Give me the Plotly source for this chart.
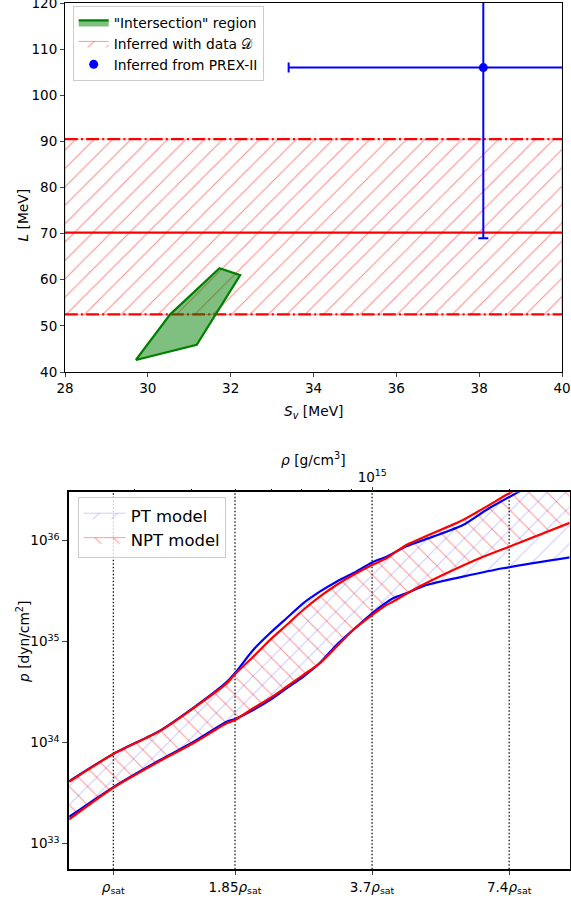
import math
import plotly.graph_objects as go

W, H = 571, 898

# ---------------- top panel data ----------------
SV_TICKS = [28, 30, 32, 34, 36, 38, 40]
L_TICKS = [40, 50, 60, 70, 80, 90, 100, 110, 120]
SV_RANGE = [28, 40]
L_RANGE = [40, 120.01]
INTER_SV = [29.71, 30.54, 31.73, 32.23, 31.18, 29.71]
INTER_L = [42.6, 52.5, 62.5, 61.0, 45.9, 42.6]
D_L_LOW = 52.5
D_L_MID = 70.2
D_L_HIGH = 90.5
PREX_SV = [38.1]
PREX_SV_ERR = [4.7]
PREX_L = [106]
PREX_L_ERR = [37]

# ---------------- bottom panel data ----------------
RHO_SAT = 2.7e14  # g/cm^3
RHO_MULT_TICKS = [1, 1.85, 3.7, 7.4]
RHO_MULT_LABELS = ["<i>ρ</i><sub>sat</sub>", "1.85<i>ρ</i><sub>sat</sub>",
                   "3.7<i>ρ</i><sub>sat</sub>", "7.4<i>ρ</i><sub>sat</sub>"]
RHO_MULT_RANGE = [0.80, 10.04]
P_TICKS = [1e33, 1e34, 1e35, 1e36]
P_TICK_LABELS = ["10<sup>33</sup>", "10<sup>34</sup>", "10<sup>35</sup>", "10<sup>36</sup>"]
LOGP_RANGE = [32.747, 36.479]
TOP_RHO_TICKS = [1e15]
TOP_RHO_LABELS = ["10<sup>15</sup>"]
TOP_RHO_MINOR = [3e14, 4e14, 5e14, 6e14, 7e14, 8e14, 9e14, 2e15]

# PT model (blue) band, x in units of rho_sat, y = log10(p [dyn/cm^2])
PT_UP_X = [0.80, 1.0, 1.266, 1.498, 1.773, 1.85, 2.028, 2.207, 2.401, 2.611, 2.840,
           3.091, 3.361, 3.7, 3.978, 4.401, 5.034, 5.858, 6.592, 7.732, 10.1]
PT_UP_LOGP = [33.62, 33.89, 34.12, 34.345, 34.60, 34.69, 34.918, 35.083, 35.232, 35.380,
              35.495, 35.594, 35.677, 35.785, 35.842, 35.945, 36.040, 36.155, 36.304,
              36.479, 36.76]
PT_LO_X = [0.80, 1.0, 1.266, 1.498, 1.773, 1.85, 2.028, 2.207, 2.401, 2.611, 2.840,
           3.091, 3.361, 3.7, 4.113, 4.401, 4.869, 5.858, 7.168, 10.1]
PT_LO_LOGP = [33.267, 33.561, 33.829, 34.007, 34.208, 34.235, 34.324, 34.422, 34.539,
              34.653, 34.789, 34.967, 35.116, 35.281, 35.430, 35.479, 35.561, 35.644,
              35.727, 35.835]

# NPT model (red) band
NPT_UP_X = [0.80, 1.0, 1.266, 1.498, 1.773, 1.85, 2.028, 2.207, 2.401, 2.611, 2.840,
            3.091, 3.361, 3.7, 3.978, 4.401, 5.858, 7.4, 10.1]
NPT_UP_LOGP = [33.614, 33.888, 34.116, 34.341, 34.588, 34.68, 34.851, 35.017, 35.165,
               35.314, 35.446, 35.561, 35.660, 35.760, 35.826, 35.957, 36.205, 36.469,
               36.81]
NPT_LO_X = [0.80, 1.0, 1.266, 1.498, 1.773, 1.85, 2.028, 2.207, 2.401, 2.611, 2.840,
            3.091, 3.361, 3.7, 3.978, 4.113, 4.550, 5.386, 6.372, 7.4, 10.1]
NPT_LO_LOGP = [33.242, 33.554, 33.819, 33.994, 34.192, 34.225, 34.341, 34.440, 34.554,
               34.670, 34.786, 34.950, 35.116, 35.264, 35.363, 35.396, 35.512, 35.677,
               35.826, 35.941, 36.18]

FONT = "DejaVu Sans"


def px(v):
    return v / W


def py(v):
    return 1 - v / H


def rho(mults):
    return [m * RHO_SAT for m in mults]


def pr(logs):
    return [10 ** v for v in logs]


fig = go.Figure()

# ---------- top panel ----------
fig.add_trace(go.Scatter(
    x=[SV_RANGE[0], SV_RANGE[1], SV_RANGE[1], SV_RANGE[0], SV_RANGE[0]],
    y=[D_L_LOW, D_L_LOW, D_L_HIGH, D_L_HIGH, D_L_LOW],
    fill="toself", mode="lines", line=dict(color="rgba(255,0,0,0.4)", width=1),
    fillcolor="rgba(0,0,0,0)",
    fillpattern=dict(shape="/", fgcolor="rgba(255,0,0,0.45)", size=13, solidity=0.08),
    name="Inferred with data 𝒟", legend="legend", legendrank=2,
    xaxis="x", yaxis="y", hoverinfo="skip"))
for lv, dash in [(D_L_LOW, "12.8px,3.2px,2px,3.2px"), (D_L_HIGH, "12.8px,3.2px,2px,3.2px"),
                 (D_L_MID, "solid")]:
    fig.add_trace(go.Scatter(x=SV_RANGE, y=[lv, lv], mode="lines",
                             line=dict(color="red", width=2.2, dash=dash),
                             showlegend=False, xaxis="x", yaxis="y", hoverinfo="skip"))
fig.add_trace(go.Scatter(
    x=INTER_SV, y=INTER_L, fill="toself", mode="lines",
    line=dict(color="green", width=2.2), fillcolor="rgba(0,128,0,0.5)",
    name="\"Intersection\" region", legend="legend", legendrank=1,
    xaxis="x", yaxis="y", hoverinfo="skip"))
fig.add_trace(go.Scatter(
    x=PREX_SV, y=PREX_L, mode="markers",
    marker=dict(color="blue", size=9),
    error_x=dict(type="data", array=PREX_SV_ERR, color="blue", thickness=2, width=5),
    error_y=dict(type="data", array=PREX_L_ERR, color="blue", thickness=2, width=5),
    name="Inferred from PREX-II", legend="legend", legendrank=3,
    xaxis="x", yaxis="y"))

# ---------- bottom panel ----------
fig.add_trace(go.Scatter(
    x=rho(PT_UP_X + PT_LO_X[::-1]), y=pr(PT_UP_LOGP + PT_LO_LOGP[::-1]),
    fill="toself", mode="lines", line=dict(color="rgba(0,0,255,0.2)", width=1),
    fillcolor="rgba(0,0,0,0)",
    fillpattern=dict(shape="/", fgcolor="rgba(0,0,255,0.2)", size=13, solidity=0.08),
    name="PT model", legend="legend2", legendrank=1,
    xaxis="x2", yaxis="y2", hoverinfo="skip"))
fig.add_trace(go.Scatter(
    x=rho(NPT_UP_X + NPT_LO_X[::-1]), y=pr(NPT_UP_LOGP + NPT_LO_LOGP[::-1]),
    fill="toself", mode="lines", line=dict(color="rgba(255,0,0,0.4)", width=1),
    fillcolor="rgba(0,0,0,0)",
    fillpattern=dict(shape="\\", fgcolor="rgba(255,0,0,0.4)", size=13, solidity=0.08),
    name="NPT model", legend="legend2", legendrank=2,
    xaxis="x2", yaxis="y2", hoverinfo="skip"))

for m in RHO_MULT_TICKS:
    fig.add_trace(go.Scatter(x=rho([m, m]), y=[10 ** LOGP_RANGE[0], 10 ** LOGP_RANGE[1]],
                             mode="lines", line=dict(color="black", width=1.2, dash="1.5px,2px"),
                             showlegend=False, xaxis="x2", yaxis="y2", hoverinfo="skip"))

for xs, ys, col in [(PT_UP_X, PT_UP_LOGP, "blue"), (PT_LO_X, PT_LO_LOGP, "blue"),
                    (NPT_UP_X, NPT_UP_LOGP, "red"), (NPT_LO_X, NPT_LO_LOGP, "red")]:
    fig.add_trace(go.Scatter(x=rho(xs), y=pr(ys), mode="lines",
                             line=dict(color=col, width=2.2, shape="spline", smoothing=0.6),
                             showlegend=False, xaxis="x2", yaxis="y2", hoverinfo="skip"))

fig.add_trace(go.Scatter(x=rho(RHO_MULT_RANGE), y=[10 ** LOGP_RANGE[0]] * 2, mode="lines",
                         line=dict(width=0), opacity=0, showlegend=False,
                         xaxis="x3", yaxis="y2", hoverinfo="skip"))

tickfont = dict(family=FONT, size=13.5, color="black")
rho_range_log = [math.log10(v) for v in rho(RHO_MULT_RANGE)]

fig.update_layout(
    width=W, height=H, template="none",
    margin=dict(l=0, r=0, t=0, b=0),
    paper_bgcolor="white", plot_bgcolor="white",
    font=dict(family=FONT, color="black"),
    xaxis=dict(domain=[px(65), px(562)], anchor="y", range=SV_RANGE,
               tickmode="array", tickvals=SV_TICKS, ticks="outside", ticklen=4,
               tickwidth=1, showgrid=False, zeroline=False, showline=True,
               linecolor="black", linewidth=1, mirror=True, tickfont=tickfont,
               ticklabeloverflow="allow"),
    yaxis=dict(domain=[py(372), py(3)], anchor="x", range=L_RANGE,
               tickmode="array", tickvals=L_TICKS, ticks="outside", ticklen=4,
               tickwidth=1, showgrid=False, zeroline=False, showline=True,
               linecolor="black", linewidth=1, mirror=True, tickfont=tickfont,
               ticklabeloverflow="allow"),
    xaxis2=dict(domain=[px(69.2), px(569.5)], anchor="y2", type="log", range=rho_range_log,
                tickmode="array", tickvals=rho(RHO_MULT_TICKS), ticktext=RHO_MULT_LABELS,
                ticks="outside", ticklen=4, tickwidth=1, showgrid=False, zeroline=False,
                showline=True, linecolor="black", linewidth=2, mirror=True,
                tickfont=tickfont, ticklabeloverflow="allow"),
    xaxis3=dict(overlaying="x2", anchor="y2", side="top", type="log", range=rho_range_log,
                tickmode="array", tickvals=TOP_RHO_TICKS, ticktext=TOP_RHO_LABELS,
                ticks="outside", ticklen=4, tickwidth=1, showgrid=False, zeroline=False,
                showline=False, tickfont=tickfont, ticklabeloverflow="allow",
                minor=dict(tickmode="array", tickvals=TOP_RHO_MINOR, ticks="outside",
                           ticklen=2.5, tickwidth=1, tickcolor="black", showgrid=False)),
    yaxis2=dict(domain=[py(869.3), py(492.3)], anchor="x2", type="log", range=LOGP_RANGE,
                tickmode="array", tickvals=P_TICKS, ticktext=P_TICK_LABELS,
                ticks="outside", ticklen=5, tickwidth=1.2, showgrid=False, zeroline=False,
                showline=True, linecolor="black", linewidth=2, mirror=True,
                tickfont=tickfont, ticklabeloverflow="allow"),
    legend=dict(x=px(72.7), y=py(6), xanchor="left", yanchor="top",
                bgcolor="rgba(255,255,255,0.8)", bordercolor="#cccccc", borderwidth=1,
                font=dict(family=FONT, size=13.8), tracegroupgap=0, itemwidth=30),
    legend2=dict(x=px(77.7), y=py(497), xanchor="left", yanchor="top",
                 bgcolor="rgba(255,255,255,0.8)", bordercolor="#cccccc", borderwidth=1,
                 font=dict(family=FONT, size=16.5), tracegroupgap=0, itemwidth=42),
    annotations=[
        dict(text="<i>S</i><sub><i>v</i></sub> [MeV]", x=px(313), y=py(412), xref="paper",
             yref="paper", showarrow=False, font=dict(family=FONT, size=13.8)),
        dict(text="<i>L</i> [MeV]", x=px(13), y=py(187), xref="paper", yref="paper",
             textangle=-90, showarrow=False, font=dict(family=FONT, size=13.8)),
        dict(text="<i>p</i> [dyn/cm<sup>2</sup>]", x=px(12), y=py(685), xref="paper",
             yref="paper", textangle=-90, showarrow=False, font=dict(family=FONT, size=13.8)),
        dict(text="<i>ρ</i> [g/cm<sup>3</sup>]", x=px(313), y=py(459), xref="paper",
             yref="paper", showarrow=False, font=dict(family=FONT, size=13.8)),
    ],
)

fig.write_html("out.html")
